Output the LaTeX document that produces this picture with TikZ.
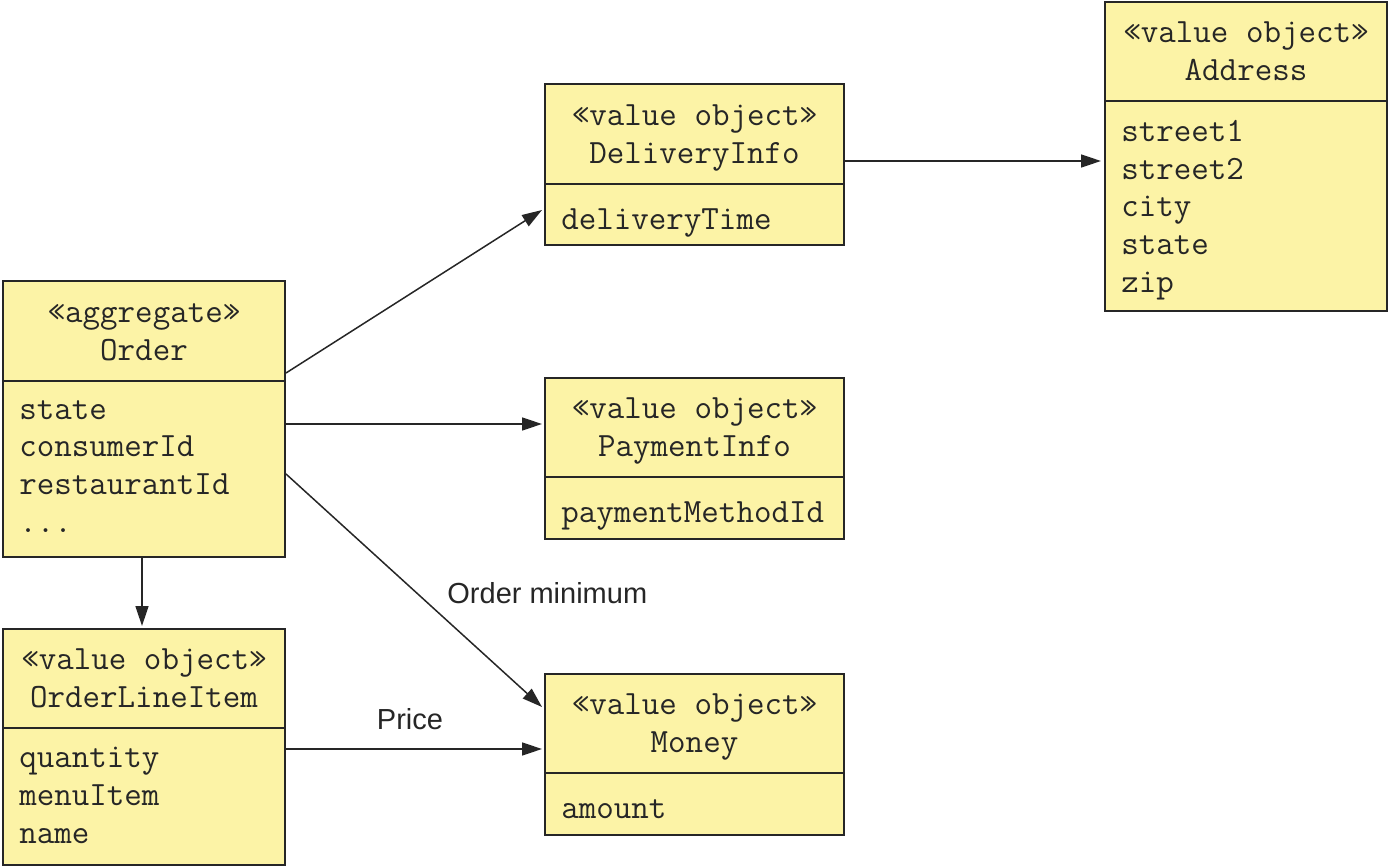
\documentclass[tikz,border=0pt]{standalone}
\usepackage{fontspec}
\setsansfont{Liberation Sans}
\usetikzlibrary{arrows.meta,calc}
\definecolor{boxfill}{RGB}{252,243,166}
\definecolor{ink}{RGB}{38,38,38}

\begin{document}
\begin{tikzpicture}[x=0.5pt,y=-0.5pt,
    frame/.style={draw=ink,line width=1pt,fill=boxfill,inner sep=0pt,anchor=north west},
    head/.style={frame,align=center,font=\ttfamily\fontsize{17}{18.85}\selectfont,text=ink,
      execute at begin node={\rule{0pt}{34.7pt}},execute at end node=\strut},
    attrs/.style={anchor=north west,align=left,inner xsep=8.5pt,inner ysep=9pt,
      font=\ttfamily\fontsize{17}{18.85}\selectfont,text=ink,
      execute at begin node=\strut,execute at end node=\strut},
    link/.style={draw=ink,line width=0.75pt,-{Triangle[length=10pt,width=6.5pt]}},
    lbl/.style={font=\sffamily\fontsize{14.5}{17}\selectfont,text=ink}]

  \useasboundingbox (0,0) rectangle (1388,866);

  % aggregate
  \node[frame,minimum width=141pt,minimum height=138pt] (order) at (2,280) {};
  \node[head,minimum width=141pt,minimum height=50pt] (orderhead) at (order.north west) {«aggregate»\\Order};
  \node[attrs] (orderattr) at (orderhead.south west) {state\\consumerId\\restaurantId\\...};

  % value objects
  \node[frame,minimum width=141pt,minimum height=118pt] (lineitem) at (2,628) {};
  \node[head,minimum width=141pt,minimum height=49.5pt] (lineitemhead) at (lineitem.north west) {«value object»\\OrderLineItem};
  \node[attrs] (lineitemattr) at (lineitemhead.south west) {quantity\\menuItem\\name};

  \node[frame,minimum width=149.5pt,minimum height=80.5pt] (delivery) at (544,83) {};
  \node[head,minimum width=149.5pt,minimum height=50pt] (deliveryhead) at (delivery.north west) {«value object»\\DeliveryInfo};
  \node[attrs] (deliveryattr) at (deliveryhead.south west) {deliveryTime};

  \node[frame,minimum width=149.5pt,minimum height=80.5pt] (payment) at (544,377) {};
  \node[head,minimum width=149.5pt,minimum height=49.5pt] (paymenthead) at (payment.north west) {«value object»\\PaymentInfo};
  \node[attrs] (paymentattr) at (paymenthead.south west) {paymentMethodId};

  \node[frame,minimum width=149.5pt,minimum height=80.5pt] (money) at (544,673) {};
  \node[head,minimum width=149.5pt,minimum height=49.5pt] (moneyhead) at (money.north west) {«value object»\\Money};
  \node[attrs] (moneyattr) at (moneyhead.south west) {amount};

  \node[frame,minimum width=141pt,minimum height=154.5pt] (address) at (1104,1) {};
  \node[head,minimum width=141pt,minimum height=49.5pt] (addresshead) at (address.north west) {«value object»\\Address};
  \node[attrs] (addressattr) at (addresshead.south west) {street1\\street2\\city\\state\\zip};

  % connectors
  \draw[link] ($(order.north east)+(0,93)$) -- ($(delivery.north west)+(-2,127)$);
  \draw[link] ($(order.north east)+(0,144)$) -- ($(payment.north west)+(-2,47)$);
  \draw[link] ($(order.north east)+(0,194)$) -- ($(money.north west)+(-2,34)$)
    node[lbl,midway,right=13pt,yshift=-1.25pt] (minlbl) {Order minimum};
  \draw[link] ($(order.south)+(-2,0)$) -- ($(lineitem.north)+(-2,-2)$);
  \draw[link] ($(lineitem.north east)+(0,121)$) -- ($(money.north west)+(-2,76)$)
    node[lbl,midway,above=6pt,xshift=-2pt] (pricelbl) {Price};
  \draw[link] ($(delivery.north east)+(0,78)$) -- ($(address.north west)+(-3,160)$);

\end{tikzpicture}
\end{document}
